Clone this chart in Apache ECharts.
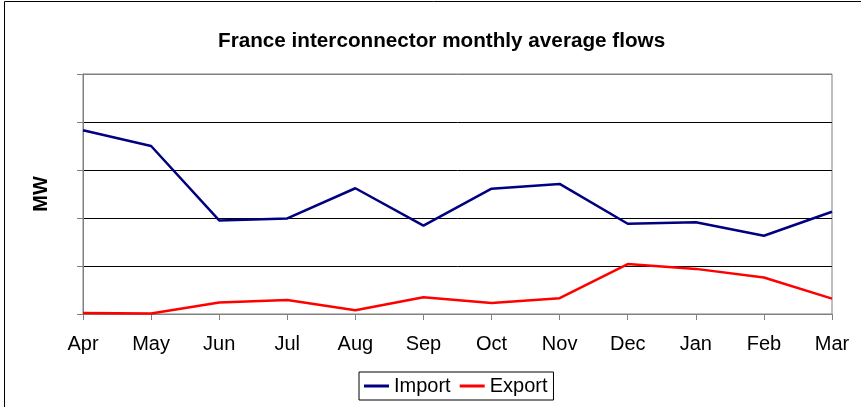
<!DOCTYPE html>
<html>
<head>
<meta charset="utf-8">
<script src="https://cdn.jsdelivr.net/npm/echarts@6/dist/echarts.min.js"></script>
<style>
  html, body { margin: 0; padding: 0; background: #fff; }
  #chart { width: 861px; height: 407px; }
</style>
</head>
<body>
<div id="chart"></div>
<script>
// months on the category axis
var months = ['Apr', 'May', 'Jun', 'Jul', 'Aug', 'Sep', 'Oct', 'Nov', 'Dec', 'Jan', 'Feb', 'Mar']
// values, in gridline units (no tick labels on the y axis)
var importFlow = [3.83, 3.5, 1.95, 1.99, 2.62, 1.84, 2.61, 2.71, 1.88, 1.91, 1.63, 2.13]
var exportFlow = [0.02, 0.01, 0.24, 0.29, 0.08, 0.35, 0.23, 0.33, 1.04, 0.94, 0.76, 0.32]

var chart = echarts.init(document.getElementById('chart'))
var font = 'Liberation Sans, Arial, sans-serif'

var option = {
  backgroundColor: '#fff',
  animation: false,
  title: {
    text: 'France interconnector monthly average flows',
    left: 213,
    top: 26,
    textStyle: { fontFamily: font, fontSize: 20.7, fontWeight: 'bold', color: '#000' }
  },
  // outer chart border, runs off the right and bottom of the picture
  graphic: [{
    type: 'rect',
    shape: { x: 4.5, y: 1.5, width: 900, height: 450 },
    style: { fill: 'none', stroke: '#000', lineWidth: 1 },
    silent: true
  }],
  // plot area frame: top and right edges are grey
  grid: { left: 83, right: 29, top: 74, bottom: 93, show: true, borderColor: '#808080', borderWidth: 1 },
  legend: {
    bottom: 7,
    left: 359,
    icon: 'rect',
    itemWidth: 25,
    itemHeight: 3,
    itemGap: 9,
    padding: [4, 6, 4, 5],
    borderColor: '#000',
    borderWidth: 1,
    borderRadius: 0,
    textStyle: { fontFamily: font, fontSize: 20, color: '#000' },
    data: ['Import', 'Export']
  },
  xAxis: {
    type: 'category',
    data: months,
    boundaryGap: false,
    axisLine: { lineStyle: { color: '#808080', width: 1 } },
    axisTick: { show: true, length: 6, inside: false, lineStyle: { color: '#808080' } },
    axisLabel: { fontFamily: font, fontSize: 20, color: '#000', margin: 20, interval: 0 },
    splitLine: { show: false }
  },
  yAxis: {
    type: 'value',
    min: 0,
    max: 5,
    interval: 1,
    name: 'MW',
    nameLocation: 'middle',
    nameGap: 32,
    nameRotate: 90,
    nameTextStyle: { fontFamily: font, fontSize: 20, fontWeight: 'bold', color: '#000' },
    axisLine: { show: true, lineStyle: { color: '#808080', width: 1 } },
    axisTick: { show: true, length: 6, lineStyle: { color: '#808080' } },
    axisLabel: { show: false },
    splitLine: {
      show: true,
      lineStyle: { color: ['#808080', '#000', '#000', '#000', '#000', '#808080'], width: 1 }
    }
  },
  series: [
    {
      name: 'Import',
      type: 'line',
      data: importFlow,
      symbol: 'none',
      lineStyle: { color: '#000080', width: 2.5 },
      itemStyle: { color: '#000080' }
    },
    {
      name: 'Export',
      type: 'line',
      data: exportFlow,
      symbol: 'none',
      lineStyle: { color: '#ff0000', width: 2.5 },
      itemStyle: { color: '#ff0000' }
    }
  ]
}
chart.setOption(option)
</script>
</body>
</html>
